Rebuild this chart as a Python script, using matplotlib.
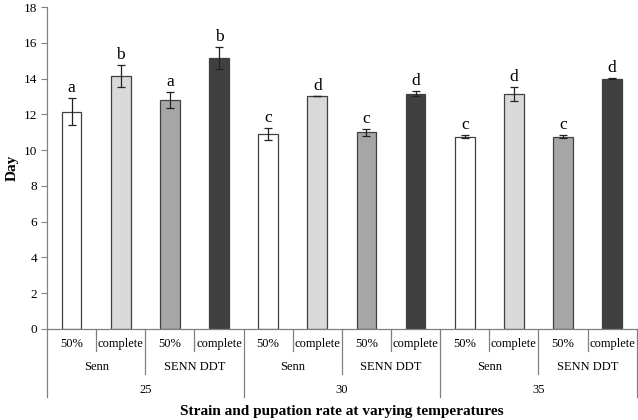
import matplotlib
matplotlib.use("Agg")
import matplotlib.pyplot as plt
import matplotlib.transforms as mtransforms
import numpy as np

plt.rcParams['font.family'] = ['Liberation Serif', 'DejaVu Serif']

temps = ['25', '30', '35']
strains = ['Senn', 'SENN DDT']
rates = ['50%', 'complete']
means = [12.15, 14.15, 12.8, 15.15, 10.9, 13.0, 11.0, 13.15, 10.75, 13.15, 10.75, 14.0]
errs = [0.75, 0.6, 0.45, 0.6, 0.35, 0.0, 0.2, 0.15, 0.1, 0.4, 0.08, 0.05]
letters = ['a', 'b', 'a', 'b', 'c', 'd', 'c', 'd', 'c', 'd', 'c', 'd']
bar_colors = ['#ffffff', '#d9d9d9', '#a6a6a6', '#404040']

fig = plt.figure(figsize=(6.38, 4.2), dpi=100)
ax = fig.add_axes([0.0737, 0.2167, 0.9243, 0.7666])

x = np.arange(len(means))
cols = [bar_colors[i % 4] for i in range(len(means))]
ax.bar(x, means, width=0.4, color=cols, edgecolor='#404040', linewidth=0.9, zorder=2)
ax.errorbar(x, means, yerr=errs, fmt='none', ecolor='#222222', elinewidth=0.9,
            capsize=3, capthick=0.9, zorder=3)
for xi, m, e, lab in zip(x, means, errs, letters):
    ax.annotate(lab, (xi, m + e), xytext=(0, 1.5), textcoords='offset points',
                ha='center', va='bottom', fontsize=12.5)

ax.set_xlim(-0.5, len(means) - 0.5)
ax.set_ylim(0, 18)
ax.set_yticks(np.arange(0, 19, 2))
ax.tick_params(axis='y', labelsize=9.5, length=4, color='#808080', pad=3)
ax.set_xticks([])
for s in ['top', 'right']:
    ax.spines[s].set_visible(False)
for s in ['left', 'bottom']:
    ax.spines[s].set_color('#808080')
    ax.spines[s].set_linewidth(0.9)
ax.set_ylabel('Day', fontsize=11, fontweight='bold', labelpad=4)

# multi-level category axis
trans = mtransforms.blended_transform_factory(ax.transData, ax.transAxes)
y1, y2, y3 = -0.068, -0.140, -0.211
for i in range(len(means)):
    ax.text(x[i], -0.047, rates[i % 2], transform=trans, ha='center', va='center', fontsize=9)
for j in range(len(means) // 2):
    ax.text(2 * j + 0.5, -0.118, strains[j % 2], transform=trans, ha='center', va='center', fontsize=9)
for k, t in enumerate(temps):
    ax.text(4 * k + 1.5, -0.189, t, transform=trans, ha='center', va='center', fontsize=9)

for b in np.arange(-0.5, len(means), 1.0):
    idx = int(b + 0.5)
    if idx % 4 == 0:
        yb = y3
    elif idx % 2 == 0:
        yb = y2
    else:
        yb = y1
    ax.plot([b, b], [0, yb], transform=trans, color='#808080', lw=0.9, clip_on=False)

ax.text(0.5, -0.255, 'Strain and pupation rate at varying temperatures', transform=ax.transAxes,
        ha='center', va='center', fontsize=11, fontweight='bold')

fig.savefig('out.png', dpi=100)
